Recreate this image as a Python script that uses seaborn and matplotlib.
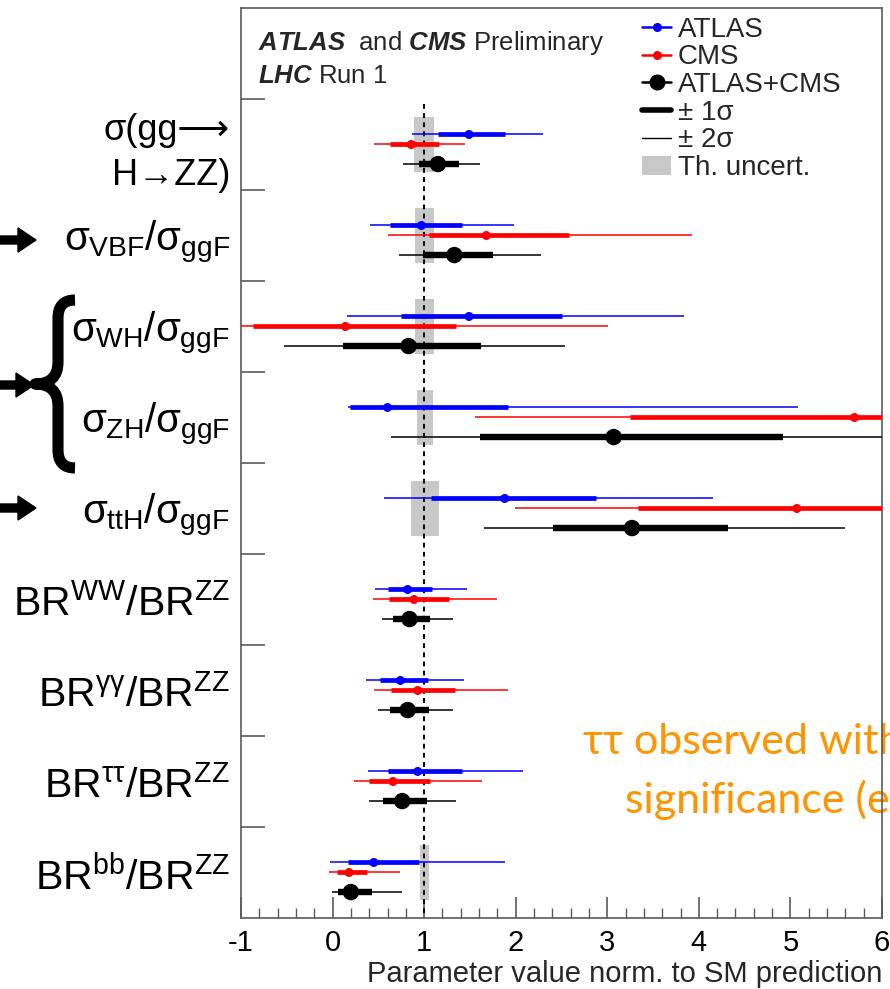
import numpy as np
import pandas as pd
import matplotlib
matplotlib.use("Agg")
import matplotlib.pyplot as plt
import seaborn as sns
from matplotlib.lines import Line2D
from matplotlib.patches import Patch, FancyArrow, PathPatch
from matplotlib.path import Path

# ---------------------------------------------------------------- data
params = [
    "σ(gg⟶\nH→ZZ)",
    r"$\sigma_{\mathrm{VBF}}/\sigma_{\mathrm{ggF}}$",
    r"$\sigma_{\mathrm{WH}}/\sigma_{\mathrm{ggF}}$",
    r"$\sigma_{\mathrm{ZH}}/\sigma_{\mathrm{ggF}}$",
    r"$\sigma_{\mathrm{ttH}}/\sigma_{\mathrm{ggF}}$",
    r"$\mathrm{BR}^{\mathrm{WW}}/\mathrm{BR}^{\mathrm{ZZ}}$",
    r"$\mathrm{BR}^{\gamma\gamma}/\mathrm{BR}^{\mathrm{ZZ}}$",
    r"$\mathrm{BR}^{\tau\tau}/\mathrm{BR}^{\mathrm{ZZ}}$",
    r"$\mathrm{BR}^{\mathrm{bb}}/\mathrm{BR}^{\mathrm{ZZ}}$",
]
label_sizes = [26, 29, 29, 29, 29, 29.5, 29.5, 29.5, 29.5]

experiments = ["ATLAS", "CMS", "ATLAS+CMS"]

atlas_val = [1.49, 0.97, 1.49, 0.60, 1.88, 0.82, 0.74, 0.93, 0.45]
atlas_lo1 = [1.15, 0.63, 0.75, 0.19, 1.08, 0.60, 0.52, 0.60, 0.17]
atlas_hi1 = [1.88, 1.41, 2.50, 1.92, 2.88, 1.09, 1.04, 1.41, 0.94]
atlas_lo2 = [0.87, 0.41, 0.16, 0.17, 0.56, 0.46, 0.37, 0.39, -0.03]
atlas_hi2 = [2.30, 1.98, 3.84, 5.08, 4.15, 1.47, 1.43, 2.08, 1.88]

cms_val = [0.86, 1.68, 0.14, 5.70, 5.07, 0.89, 0.93, 0.66, 0.18]
cms_lo1 = [0.63, 1.05, -0.87, 3.25, 3.33, 0.62, 0.64, 0.40, 0.05]
cms_hi1 = [1.16, 2.58, 1.35, 6.60, 6.60, 1.27, 1.34, 1.06, 0.38]
cms_lo2 = [0.45, 0.60, -1.10, 1.56, 1.99, 0.44, 0.45, 0.23, -0.04]
cms_hi2 = [1.45, 3.93, 3.01, 7.00, 7.00, 1.80, 1.92, 1.63, 0.74]

comb_val = [1.15, 1.33, 0.83, 3.07, 3.27, 0.84, 0.82, 0.76, 0.20]
comb_lo1 = [0.94, 0.99, 0.11, 1.61, 2.41, 0.66, 0.63, 0.55, 0.06]
comb_hi1 = [1.38, 1.75, 1.62, 4.92, 4.32, 1.06, 1.05, 1.03, 0.43]
comb_lo2 = [0.77, 0.72, -0.53, 0.64, 1.65, 0.54, 0.50, 0.40, -0.01]
comb_hi2 = [1.61, 2.28, 2.54, 6.60, 5.60, 1.32, 1.32, 1.35, 0.76]

# theory uncertainty on the SM prediction (no band where negligible)
th_lo = [0.89, 0.90, 0.90, 0.92, 0.86, np.nan, np.nan, np.nan, 0.96]
th_hi = [1.11, 1.11, 1.11, 1.10, 1.16, np.nan, np.nan, np.nan, 1.05]

xticks = [-1, 0, 1, 2, 3, 4, 5, 6]

# ---------------------------------------------------------------- style
sns.set_theme(style="ticks")
plt.rcParams.update({
    "font.family": ["Liberation Sans", "DejaVu Sans"],
    "mathtext.fontset": "custom",
    "mathtext.rm": "Liberation Sans",
    "mathtext.it": "Liberation Sans",
    "mathtext.bf": "Liberation Sans:bold:italic",
    "axes.unicode_minus": False,
})

colors = {"ATLAS": "#0000ff", "CMS": "#ff0000", "ATLAS+CMS": "#000000"}
offsets = {"ATLAS": -0.11, "CMS": 0.0, "ATLAS+CMS": 0.215}
thin_lw = {"ATLAS": 1.1, "CMS": 1.1, "ATLAS+CMS": 1.1}
thick_lw = {"ATLAS": 3.4, "CMS": 3.4, "ATLAS+CMS": 4.6}
point_size = {"ATLAS": 42, "CMS": 42, "ATLAS+CMS": 140}
band_color = "#c8c8c8"
spine_color = "#5a5a5a"

rows = np.arange(1, len(params) + 1)

series = {
    "ATLAS": (atlas_val, atlas_lo1, atlas_hi1, atlas_lo2, atlas_hi2),
    "CMS": (cms_val, cms_lo1, cms_hi1, cms_lo2, cms_hi2),
    "ATLAS+CMS": (comb_val, comb_lo1, comb_hi1, comb_lo2, comb_hi2),
}

frames = []
for exp in experiments:
    val, lo1, hi1, lo2, hi2 = series[exp]
    frames.append(pd.DataFrame({
        "exp": exp, "row": rows, "y": rows + offsets[exp],
        "value": val, "lo1": lo1, "hi1": hi1, "lo2": lo2, "hi2": hi2,
    }))
df = pd.concat(frames, ignore_index=True)

# ---------------------------------------------------------------- figure
fig = plt.figure(figsize=(8.90, 9.89), dpi=100)
ax = fig.add_axes([241 / 890, 1 - 918 / 989, 641 / 890, 910 / 989])

# theory bands
th_lo_a = np.array(th_lo)
th_hi_a = np.array(th_hi)
has_band = ~np.isnan(th_lo_a)
ax.barh(rows[has_band], (th_hi_a - th_lo_a)[has_band], left=th_lo_a[has_band],
        height=0.6, color=band_color, linewidth=0, zorder=1)

# SM reference line
ax.vlines(1, 0.55, len(params) + 0.5, colors="black", linestyles=(0, (2.5, 2.2)),
          linewidth=1.4, zorder=2)

# 2 sigma and 1 sigma intervals
for exp in experiments:
    d = df[df["exp"] == exp]
    ax.hlines(d["y"], d["lo2"], d["hi2"], colors=colors[exp],
              linewidth=thin_lw[exp], zorder=3)
    ax.hlines(d["y"], d["lo1"], d["hi1"], colors=colors[exp],
              linewidth=thick_lw[exp], zorder=3.5)

# best-fit values
sns.scatterplot(data=df, x="value", y="y", hue="exp", palette=colors,
                size="exp", sizes=point_size, linewidth=0, legend=False,
                zorder=5, ax=ax)

# axes ranges and ticks
ax.set_xlim(-1, 6)
ax.set_ylim(len(params) + 0.5, -0.5)
ax.set_xticks(xticks)
ax.set_xticklabels([str(t) for t in xticks], fontsize=21)
ax.set_xticks(np.arange(-1, 6.01, 0.2), minor=True)
ax.set_yticks(rows)
ax.set_yticklabels(params)
for lab, fs in zip(ax.get_yticklabels(), label_sizes):
    lab.set_fontsize(fs)
    lab.set_multialignment("right")
    lab.set_linespacing(1.35)
ax.set_yticks(np.arange(0.5, len(params)), minor=True)
ax.tick_params(axis="y", which="major", length=0, pad=8, labelcolor="black")
ax.tick_params(axis="y", which="minor", direction="in", length=17, width=1.2,
               color=spine_color, left=True, right=False)
ax.tick_params(axis="x", which="major", direction="in", length=15, width=1.2,
               color=spine_color, pad=8, labelcolor="black", top=False)
ax.tick_params(axis="x", which="minor", direction="in", length=7, width=1.0,
               color=spine_color, top=False)
ax.set_xlabel("Parameter value norm. to SM prediction", fontsize=21,
              loc="right", labelpad=2)
ax.set_ylabel("")
for sp in ax.spines.values():
    sp.set_color(spine_color)
    sp.set_linewidth(1.2)
    sp.set_visible(True)

# experiment tags
ax.text(0.0265, 0.9615, r"$\mathbf{ATLAS}$  and $\mathbf{CMS}$ Preliminary",
        transform=ax.transAxes, fontsize=18.5, ha="left", va="center")
ax.text(0.0265, 0.9254, r"$\mathbf{LHC}$ Run 1",
        transform=ax.transAxes, fontsize=18.5, ha="left", va="center")

# legend
handles = [
    Line2D([], [], color=colors["ATLAS"], lw=1.8, marker="o", ms=5.5),
    Line2D([], [], color=colors["CMS"], lw=1.8, marker="o", ms=5.5),
    Line2D([], [], color="black", lw=1.8, marker="o", ms=10.5),
    Line2D([], [], color="black", lw=4.0),
    Line2D([], [], color="black", lw=1.0),
    Patch(facecolor=band_color, edgecolor="none"),
]
labels = ["ATLAS", "CMS", "ATLAS+CMS", "± 1σ", "± 2σ", "Th. uncert."]
ax.legend(handles, labels, loc="upper left", bbox_to_anchor=(0.6256, 0.9905),
          frameon=False, fontsize=20, handlelength=1.05, handletextpad=0.25,
          labelspacing=0.06, borderpad=0.0, borderaxespad=0.0)

# highlighted note
note_kw = dict(transform=fig.transFigure, fontsize=31, color="#ff9400",
               family=["Lato", "DejaVu Sans"], ha="left", va="center",
               clip_on=False, zorder=2.4)
ax.text(583 / 890, 1 - 742 / 989, "ττ observed with 5.5σ", **note_kw)
ax.text(625 / 890, 1 - 800 / 989, "significance (exp. 5.0σ)", **note_kw)

# arrows and brace on the left margin (figure pixel positions)
H = 989
px = fig.dpi_scale_trans
for y_px, tip in [(240, 36), (385, 34), (508, 36)]:
    fig.add_artist(FancyArrow(0 / 100, (H - y_px) / 100, tip / 100, 0,
                              width=8 / 100, head_width=24 / 100,
                              head_length=18 / 100, length_includes_head=True,
                              color="black", transform=px))

brace_pts = [(75, 300), (58, 300), (58, 318), (58, 318), (58, 362),
             (58, 384), (35, 384), (58, 384), (58, 406), (58, 406),
             (58, 450), (58, 468), (75, 468)]
codes = [Path.MOVETO, Path.CURVE3, Path.CURVE3, Path.LINETO, Path.LINETO,
         Path.CURVE3, Path.CURVE3, Path.CURVE3, Path.CURVE3, Path.LINETO,
         Path.LINETO, Path.CURVE3, Path.CURVE3]
brace = Path([(x / 100, (H - y) / 100) for x, y in brace_pts], codes)
fig.add_artist(PathPatch(brace, facecolor="none", edgecolor="black",
                         linewidth=8, capstyle="butt", joinstyle="round",
                         transform=px))

fig.savefig("out.png", dpi=100)
